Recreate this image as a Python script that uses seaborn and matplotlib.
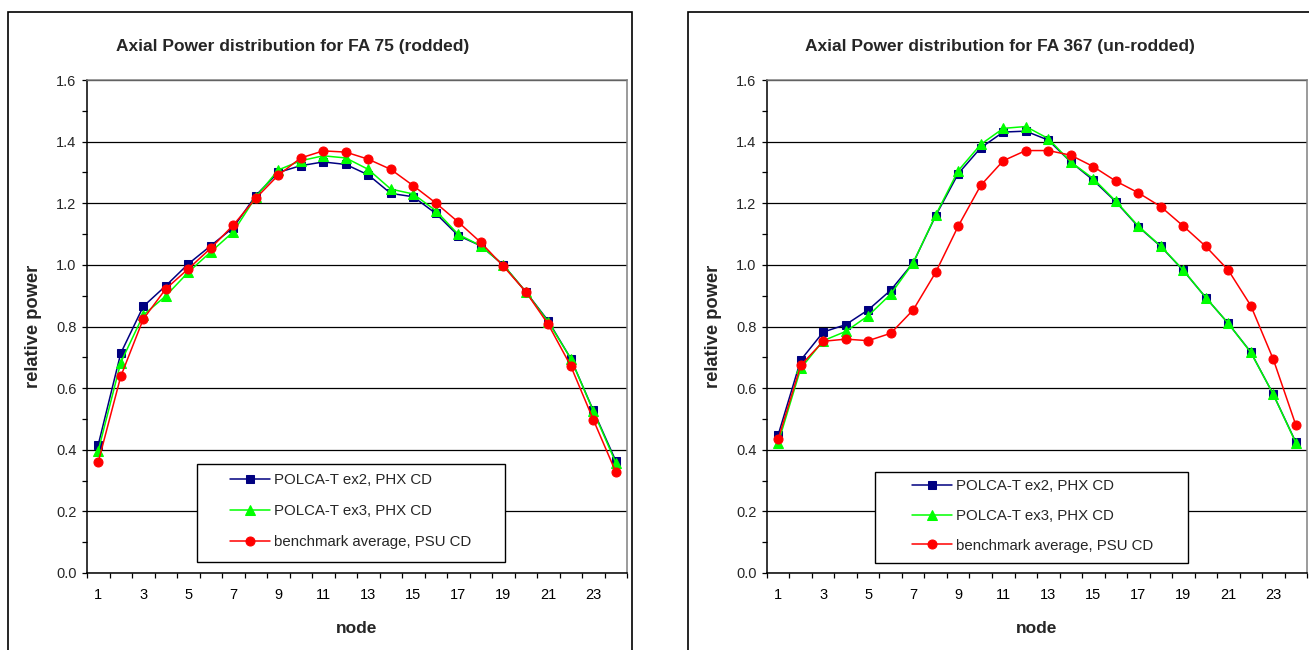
import numpy as np
import pandas as pd
import matplotlib
matplotlib.use("Agg")
import matplotlib.pyplot as plt
from matplotlib.patches import Rectangle
from matplotlib.ticker import MultipleLocator, FixedLocator, FormatStrFormatter
import seaborn as sns

nodes = list(range(1, 25))

# FA 75 (rodded)
fa75_ex2 = [0.416, 0.713, 0.865, 0.932, 1.003, 1.062, 1.121, 1.225, 1.300, 1.322, 1.334, 1.326,
            1.292, 1.232, 1.221, 1.167, 1.095, 1.062, 1.000, 0.913, 0.818, 0.696, 0.528, 0.364]
fa75_ex3 = [0.397, 0.683, 0.837, 0.899, 0.976, 1.042, 1.107, 1.220, 1.308, 1.338, 1.354, 1.347,
            1.310, 1.246, 1.230, 1.176, 1.099, 1.062, 1.000, 0.913, 0.815, 0.696, 0.526, 0.358]
fa75_bench = [0.360, 0.638, 0.824, 0.922, 0.987, 1.054, 1.129, 1.216, 1.291, 1.347, 1.370, 1.366,
              1.343, 1.310, 1.257, 1.201, 1.139, 1.073, 0.996, 0.913, 0.807, 0.672, 0.498, 0.328]

# FA 367 (un-rodded)
fa367_ex2 = [0.449, 0.691, 0.782, 0.806, 0.854, 0.918, 1.007, 1.160, 1.296, 1.380, 1.431, 1.434,
             1.405, 1.334, 1.275, 1.205, 1.124, 1.060, 0.982, 0.894, 0.810, 0.717, 0.580, 0.425]
fa367_ex3 = [0.423, 0.664, 0.754, 0.784, 0.835, 0.905, 1.007, 1.162, 1.306, 1.391, 1.443, 1.449,
             1.410, 1.334, 1.280, 1.207, 1.126, 1.061, 0.983, 0.894, 0.810, 0.716, 0.580, 0.423]
fa367_bench = [0.435, 0.674, 0.752, 0.759, 0.754, 0.778, 0.854, 0.976, 1.126, 1.258, 1.338, 1.371,
               1.371, 1.356, 1.319, 1.272, 1.234, 1.189, 1.126, 1.060, 0.983, 0.868, 0.694, 0.481]

series_names = ["POLCA-T ex2, PHX CD", "POLCA-T ex3, PHX CD", "benchmark average, PSU CD"]
titles = ["Axial Power distribution for FA 75 (rodded)",
          "Axial Power distribution for FA 367 (un-rodded)"]
x_tick_labels = [str(n) for n in range(1, 24, 2)]

colors = ["#000080", "#00FF00", "#FF0000"]
markers = ["s", "^", "o"]
msizes = [6.0, 7.0, 6.5]

sns.set_theme(style="white")
plt.rcParams["font.family"] = ["Liberation Sans", "DejaVu Sans"]

W, H = 1309, 650
fig = plt.figure(figsize=(W / 100, H / 100), dpi=100)


def fx(px):
    return px / W


def fy(py):
    return 1 - py / H


# panel frames around each chart
for x0, x1 in [(8, 632), (688, 1330)]:
    fig.patches.append(Rectangle((fx(x0), fy(670)), fx(x1 - x0), (670 - 12) / H,
                                 transform=fig.transFigure, fill=False,
                                 edgecolor="black", linewidth=1.2, zorder=0))

panels = [
    dict(left=87, data=[fa75_ex2, fa75_ex3, fa75_bench], title=titles[0], tx=293,
         box=(197, 464, 505, 562), hx=230, rows=(480, 541.7)),
    dict(left=767, data=[fa367_ex2, fa367_ex3, fa367_bench], title=titles[1], tx=1000,
         box=(875, 472, 1188, 563), hx=912, rows=(486, 545.5)),
]

tick_fs = 10.5
leg_fs = 10.8

for p in panels:
    ax = fig.add_axes([fx(p["left"]), fy(573), fx(540), 493 / H])
    df = pd.DataFrame({"node": nodes * 3,
                       "power": p["data"][0] + p["data"][1] + p["data"][2],
                       "series": sum([[s] * 24 for s in series_names], [])})
    for i, name in enumerate(series_names):
        sns.lineplot(data=df[df["series"] == name], x="node", y="power", ax=ax,
                     color=colors[i], marker=markers[i], markersize=msizes[i],
                     markeredgecolor=colors[i], linewidth=1.1, label=name, legend=False,
                     zorder=3 + i)

    ax.set_xlim(0.5, 24.5)
    ax.set_ylim(0, 1.6)
    ax.xaxis.set_major_locator(FixedLocator(list(range(1, 24, 2))))
    ax.set_xticklabels(x_tick_labels)
    ax.xaxis.set_minor_locator(FixedLocator(np.arange(0.5, 25, 1.0)))
    ax.yaxis.set_major_locator(MultipleLocator(0.2))
    ax.yaxis.set_minor_locator(MultipleLocator(0.1))
    ax.yaxis.set_major_formatter(FormatStrFormatter("%.1f"))
    ax.tick_params(axis="x", which="major", length=0, pad=10.5, labelsize=tick_fs, colors="black")
    ax.tick_params(axis="x", which="minor", length=3.5, width=0.9, direction="out",
                   bottom=True, color="black")
    ax.tick_params(axis="y", which="major", length=3.5, width=0.9, pad=4,
                   labelsize=tick_fs, left=True, direction="out", color="black")
    ax.tick_params(axis="y", which="minor", length=3.5, width=0.9, left=True,
                   direction="out", color="black")
    ax.grid(axis="y", which="major", color="black", linewidth=0.9)
    ax.grid(axis="x", visible=False)
    ax.set_axisbelow(True)
    for side in ["left", "bottom"]:
        ax.spines[side].set_color("black")
        ax.spines[side].set_linewidth(1.1)
    for side in ["top", "right"]:
        ax.spines[side].set_color("#808080")
        ax.spines[side].set_linewidth(1.1)

    ax.set_xlabel("node", fontsize=12.5, fontweight="bold", labelpad=14)
    ax.set_ylabel("relative power", fontsize=13.2, fontweight="bold", labelpad=10)

    fig.text(fx(p["tx"]), fy(46), p["title"], ha="center", va="center",
             fontsize=12.5, fontweight="bold")

    # legend box, drawn over the gridlines
    bx0, by0, bx1, by1 = p["box"]
    fig.patches.append(Rectangle((fx(bx0), fy(by1)), fx(bx1 - bx0), (by1 - by0) / H,
                                 transform=fig.transFigure, facecolor="white",
                                 edgecolor="black", linewidth=1.0, zorder=4))
    handles, labels = ax.get_legend_handles_labels()
    r0, r2 = p["rows"]
    spacing_px = (r2 - r0) / 2
    fs_px = leg_fs * 100 / 72
    leg = fig.legend(handles, labels, loc="center left",
                     bbox_to_anchor=(fx(p["hx"]), fy((r0 + r2) / 2)),
                     frameon=False, fontsize=leg_fs, handlelength=40 / fs_px,
                     handletextpad=4 / fs_px, borderpad=0, borderaxespad=0,
                     labelspacing=(spacing_px - fs_px * 0.93) / fs_px)
    leg.set_zorder(6)

fig.savefig("out.png", dpi=100)
